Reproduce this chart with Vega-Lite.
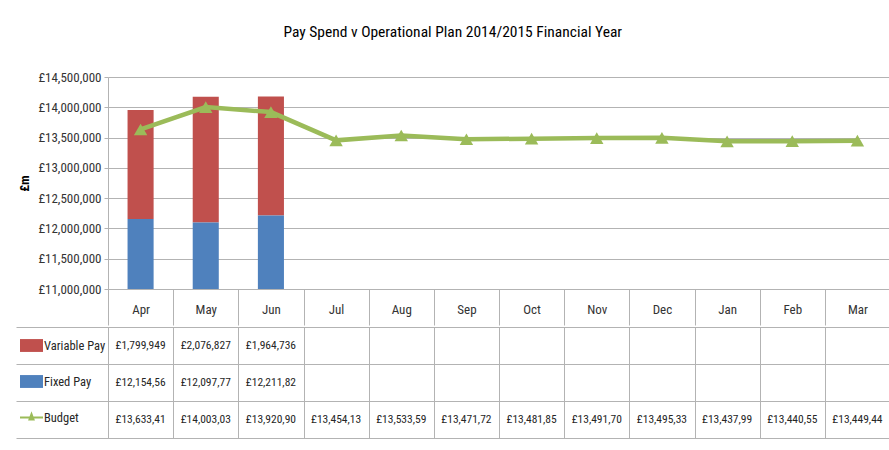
{
  "$schema": "https://vega.github.io/schema/vega-lite/v6.json",
  "background": "white",
  "padding": {"left": 15, "top": 24, "right": 0, "bottom": 5},
  "title": {"text": "Pay Spend v Operational Plan 2014/2015 Financial Year", "fontSize": 15.5, "fontWeight": "normal", "color": "#000000", "offset": 31, "anchor": "middle"},
  "datasets": {
    "pay": [
      {"month": "Apr", "series": "Variable Pay", "value": 1799949, "shown": "£1,799,949"},
      {"month": "May", "series": "Variable Pay", "value": 2076827, "shown": "£2,076,827"},
      {"month": "Jun", "series": "Variable Pay", "value": 1964736, "shown": "£1,964,736"},
      {"month": "Apr", "series": "Fixed Pay", "value": 12154560, "shown": "£12,154,56"},
      {"month": "May", "series": "Fixed Pay", "value": 12097770, "shown": "£12,097,77"},
      {"month": "Jun", "series": "Fixed Pay", "value": 12211820, "shown": "£12,211,82"},
      {"month": "Apr", "series": "Budget", "value": 13633410, "shown": "£13,633,41"},
      {"month": "May", "series": "Budget", "value": 14003030, "shown": "£14,003,03"},
      {"month": "Jun", "series": "Budget", "value": 13920900, "shown": "£13,920,90"},
      {"month": "Jul", "series": "Budget", "value": 13454130, "shown": "£13,454,13"},
      {"month": "Aug", "series": "Budget", "value": 13533590, "shown": "£13,533,59"},
      {"month": "Sep", "series": "Budget", "value": 13471720, "shown": "£13,471,72"},
      {"month": "Oct", "series": "Budget", "value": 13481850, "shown": "£13,481,85"},
      {"month": "Nov", "series": "Budget", "value": 13491700, "shown": "£13,491,70"},
      {"month": "Dec", "series": "Budget", "value": 13495330, "shown": "£13,495,33"},
      {"month": "Jan", "series": "Budget", "value": 13437990, "shown": "£13,437,99"},
      {"month": "Feb", "series": "Budget", "value": 13440550, "shown": "£13,440,55"},
      {"month": "Mar", "series": "Budget", "value": 13449440, "shown": "£13,449,44"}
    ]
  },
  "spacing": 0,
  "resolve": {
    "scale": {"color": "independent", "shape": "independent"},
    "legend": {"color": "independent", "shape": "independent"}
  },
  "vconcat": [
    {
      "width": 782,
      "height": 212,
      "data": {"name": "pay"},
      "view": {"stroke": null},
      "encoding": {
        "x": {
          "field": "month", "type": "nominal",
          "sort": ["Apr", "May", "Jun", "Jul", "Aug", "Sep", "Oct", "Nov", "Dec", "Jan", "Feb", "Mar"],
          "scale": {"paddingInner": 0, "paddingOuter": 0},
          "axis": {"title": null, "labelAngle": 0, "tickBand": "extent", "tickSize": 36, "tickColor": "#b3b3b3", "domainColor": "#b3b3b3", "labelPadding": -16, "labelBaseline": "middle", "labelFontSize": 13, "labelColor": "#333333", "grid": false}
        },
        "y": {
          "field": "value", "type": "quantitative",
          "scale": {"domain": [11000000, 14500000], "zero": false, "nice": false},
          "axis": {"values": [11000000, 11500000, 12000000, 12500000, 13000000, 13500000, 14000000, 14500000], "labelOverlap": false, "labelExpr": "'£' + format(datum.value, ',')", "grid": true, "gridColor": "#b3b3b3", "domainColor": "#b3b3b3", "ticks": true, "tickSize": 4, "tickColor": "#b3b3b3", "labelPadding": 3, "labelFontSize": 13, "labelColor": "#333333", "title": "£m", "titleFontWeight": "bold", "titleFontSize": 13, "titleColor": "#000000", "titlePadding": 6}
        }
      },
      "layer": [
        {
          "transform": [{"filter": "datum.series != 'Budget'"}],
          "mark": {"type": "bar", "width": {"band": 0.4}, "clip": true},
          "encoding": {
            "color": {
              "field": "series", "type": "nominal",
              "scale": {"domain": ["Variable Pay", "Fixed Pay"], "range": ["#C0504D", "#4F81BD"]},
              "legend": null
            },
            "order": {"field": "series", "sort": "ascending"}
          }
        },
        {
          "transform": [{"filter": "datum.series == 'Budget'"}],
          "mark": {"type": "line", "color": "#9BBB59", "strokeWidth": 4.5, "point": {"shape": "triangle-up", "size": 180, "filled": true, "color": "#9BBB59"}}
        }
      ]
    },
    {
      "width": 782,
      "height": 111,
      "data": {"name": "pay"},
      "view": {"stroke": "#b3b3b3"},
      "encoding": {
        "x": {
          "field": "month", "type": "nominal",
          "sort": ["Apr", "May", "Jun", "Jul", "Aug", "Sep", "Oct", "Nov", "Dec", "Jan", "Feb", "Mar"],
          "scale": {"paddingInner": 0, "paddingOuter": 0},
          "axis": {"title": null, "labels": false, "ticks": false, "domain": false, "grid": true, "tickBand": "extent", "gridColor": "#b3b3b3"}
        },
        "y": {
          "field": "series", "type": "nominal",
          "sort": ["Variable Pay", "Fixed Pay", "Budget"],
          "scale": {"paddingInner": 0, "paddingOuter": 0},
          "axis": {"title": null, "labels": false, "ticks": true, "tickSize": 92, "tickColor": "#b3b3b3", "domain": false, "grid": true, "tickBand": "extent", "gridColor": "#b3b3b3"}
        }
      },
      "layer": [
        {
          "mark": {"type": "text", "fontSize": 11.5, "color": "#262626"},
          "encoding": {"text": {"field": "shown"}}
        },
        {
          "mark": {"type": "point", "filled": true, "opacity": 0},
          "encoding": {
            "color": {
              "field": "series", "type": "nominal",
              "scale": {"domain": ["Variable Pay", "Fixed Pay", "Budget"], "range": ["#C0504D", "#4F81BD", "#9BBB59"]},
              "legend": {"orient": "none", "legendX": -88, "legendY": 7, "title": null, "symbolSize": 529, "rowPadding": 18, "labelFontSize": 12.5, "labelColor": "#262626", "symbolOpacity": 1, "symbolStrokeWidth": 0, "padding": 0, "labelOffset": 1}
            },
            "shape": {
              "field": "series", "type": "nominal",
              "scale": {"domain": ["Variable Pay", "Fixed Pay", "Budget"], "range": ["M-1,-0.56H1V0.56H-1Z", "M-1,-0.56H1V0.56H-1Z", "M-1,-0.08H1V0.08H-1Z M0,-0.55L0.3,0.25H-0.3Z"]},
              "legend": {"orient": "none", "legendX": -88, "legendY": 7, "title": null, "symbolSize": 529, "rowPadding": 18, "labelFontSize": 12.5, "labelColor": "#262626", "symbolOpacity": 1, "symbolStrokeWidth": 0, "padding": 0, "labelOffset": 1}
            }
          }
        }
      ]
    }
  ],
  "config": {
    "font": "Liberation Sans Narrow, Roboto Condensed, Open Sans, sans-serif"
  }
}
